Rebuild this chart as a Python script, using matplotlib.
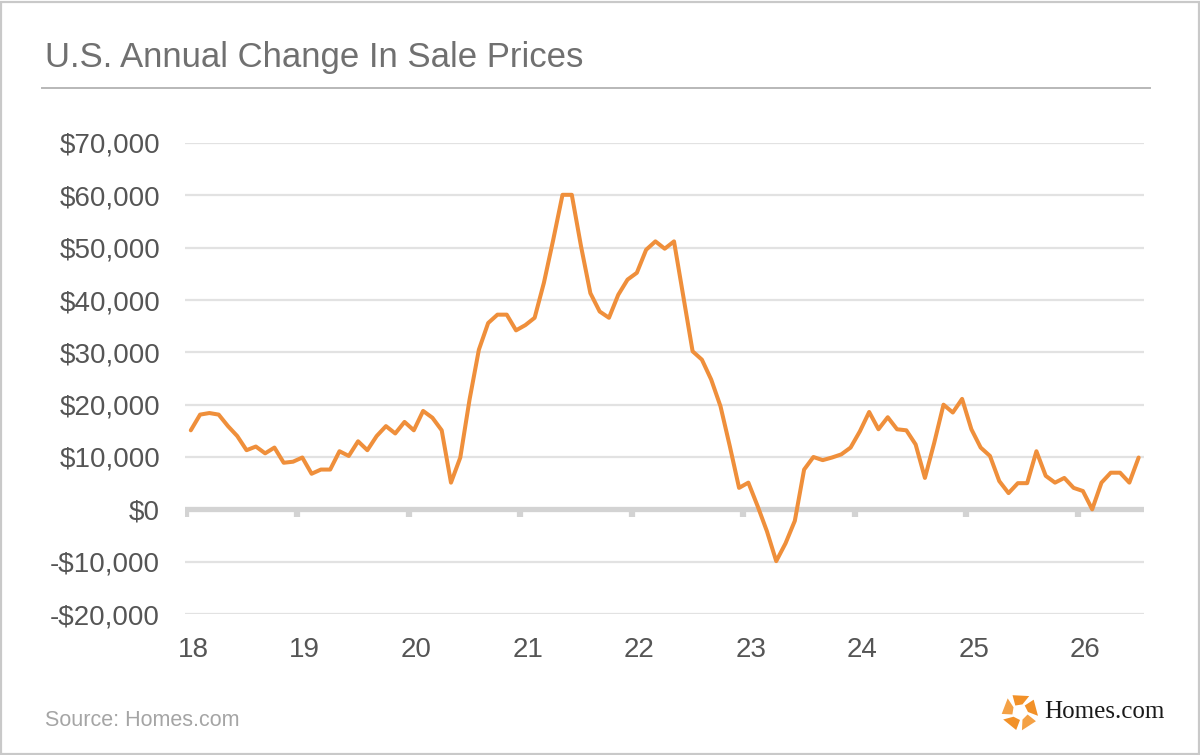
import matplotlib
matplotlib.use("Agg")
import matplotlib.pyplot as plt
from matplotlib.patches import Polygon, Rectangle
from matplotlib.transforms import blended_transform_factory
import numpy as np

# ---- data ----
year_labels = ["18", "19", "20", "21", "22", "23", "24", "25", "26"]
year_ticks = [18, 19, 20, 21, 22, 23, 24, 25, 26]
price_change = [
    15100, 18100, 18400, 18100, 15900, 14000, 11300, 12000, 10700, 11800, 8900, 9100,      # 2018
    9900, 6800, 7600, 7600, 11100, 10200, 13000, 11300, 14000, 15900, 14500, 16700,        # 2019
    15100, 18800, 17500, 15100, 5100, 9900, 21000, 30500, 35600, 37200, 37200, 34200,      # 2020
    35200, 36600, 43300, 51500, 60100, 60100, 50200, 41300, 37800, 36600, 41000, 43900,    # 2021
    45200, 49600, 51200, 49800, 51200, 40700, 30200, 28600, 24800, 19700, 12100, 4100,     # 2022
    5100, 600, -4200, -9900, -6500, -2200, 7600, 10000, 9400, 9900, 10500, 11800,          # 2023
    14900, 18600, 15300, 17600, 15300, 15100, 12400, 6000, 12700, 20000, 18500, 21100,     # 2024
    15300, 11800, 10200, 5400, 3100, 5000, 5000, 11100, 6400, 5100, 6000, 4100,           # 2025
    3500, 0, 5100, 7000, 7000, 5100, 9900,                                                 # 2026
]
y_ticks = [-20000, -10000, 0, 10000, 20000, 30000, 40000, 50000, 60000, 70000]

x = 18.03 + np.arange(len(price_change)) / 12.0

W, H = 1200, 755
fig = plt.figure(figsize=(W / 100, H / 100), dpi=100)
fig.patch.set_facecolor("white")

def fx(px):
    return px / W

def fy(py):
    return 1 - py / H

# outer border
fig.add_artist(Rectangle((0.001, 0.001), 0.998, 0.997, transform=fig.transFigure,
                         fill=False, edgecolor="#c9c9c9", linewidth=1.6))

# title + rule
fig.text(fx(45), fy(67), "U.S. Annual Change In Sale Prices", fontsize=25,
         family="Liberation Sans", color="#707070", ha="left", va="baseline")
fig.add_artist(plt.Line2D([fx(42), fx(1150)], [fy(88), fy(88)], transform=fig.transFigure,
                          color="#b8b8b8", linewidth=1.4))

# axes
left, right, top, bottom = 185, 1144, 143, 614
ax = fig.add_axes([fx(left), fy(bottom), fx(right - left), (bottom - top) / H])
ax.set_xlim(17.978, 26.578)
ax.set_ylim(-20000, 70000)
for s in ax.spines.values():
    s.set_visible(False)

for v in y_ticks:
    if v == 0:
        continue
    ax.axhline(v, color="#e2e2e2", linewidth=1.6, zorder=1)
ax.axhline(0, color="#d3d3d3", linewidth=3.8, zorder=1)
for t in year_ticks:
    ax.plot([t - 0.015, t - 0.015], [0, -1500], color="#d3d3d3", linewidth=4.5,
            solid_capstyle="butt", zorder=1)

ax.plot(x, price_change, color="#ef8f3b", linewidth=2.9, zorder=3,
        solid_joinstyle="round", solid_capstyle="round", clip_on=False)

ax.set_yticks(y_ticks)
ax.set_yticklabels([("-$" if v < 0 else "$") + f"{abs(v):,}" for v in y_ticks],
                   fontsize=20, family="Liberation Sans", color="#555555")
ax.tick_params(axis="y", length=0, pad=18)
ax.set_xticks([])

tr = blended_transform_factory(ax.transData, ax.transAxes)
for t, lab in zip(year_ticks, year_labels):
    ax.text(t + 0.05, -36 / (bottom - top), lab, transform=tr, ha="center", va="center",
            fontsize=20, family="Liberation Sans", color="#555555")

# source
fig.text(fx(45), fy(720), "Source: Homes.com", fontsize=15.5, family="Liberation Sans",
         color="#a5a5a5", ha="left", va="center")

# logo
lax = fig.add_axes([fx(1000), fy(732), fx(40), 40 / H])
lax.set_xlim(-1, 1)
lax.set_ylim(-1, 1)
lax.set_aspect("equal")
lax.axis("off")
R, r = 0.92, 0.40
for k in range(5):
    th = np.deg2rad(90 + 72 * k)
    d = np.deg2rad
    pts = [
        (R * np.cos(th - d(30)), R * np.sin(th - d(30))),
        (R * np.cos(th + d(24)), R * np.sin(th + d(24))),
        (r * np.cos(th + d(36)), r * np.sin(th + d(36))),
        (r * np.cos(th - d(18)), r * np.sin(th - d(18))),
    ]
    col = "#f29128" if k % 2 == 0 else "#f4a145"
    lax.add_patch(Polygon(pts, closed=True, facecolor=col, edgecolor="none"))
fig.text(fx(1044), fy(712), "Homes.com", fontsize=18, family="Liberation Serif",
         color="#1a1a1a", ha="left", va="center")

fig.savefig("out.png", dpi=100, facecolor="white")
